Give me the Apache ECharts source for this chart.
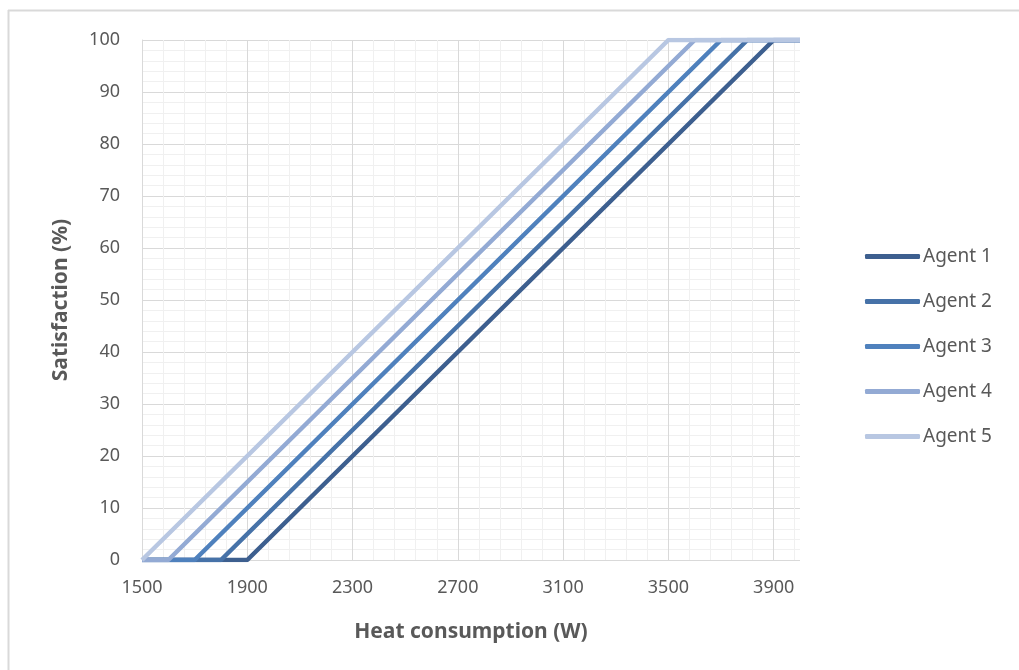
<!DOCTYPE html>
<html>
<head>
<meta charset="utf-8">
<script src="https://cdn.jsdelivr.net/npm/echarts@6/dist/echarts.min.js"></script>
<style>
  html, body { margin: 0; padding: 0; background: #fff; }
  #main { width: 1019px; height: 670px; }
</style>
</head>
<body>
<div id="main"></div>
<script>
"use strict";

// piecewise satisfaction curves: [heat (W), satisfaction (%)]
var agentNames = ["Agent 1", "Agent 2", "Agent 3", "Agent 4", "Agent 5"];
var agent1 = [[1500, 0], [1900, 0], [3900, 100], [4000, 100]];
var agent2 = [[1500, 0], [1800, 0], [3800, 100], [4000, 100]];
var agent3 = [[1500, 0], [1700, 0], [3700, 100], [4000, 100]];
var agent4 = [[1500, 0], [1600, 0], [3600, 100], [4000, 100]];
var agent5 = [[1500, 0], [3500, 100], [4000, 100]];
var agentColors = ["#3d5f8f", "#4672a8", "#4f81bd", "#93aad4", "#b8c7e2"];

var xMin = 1500, xMax = 4000, xStep = 400, xMinorStep = 80;
var yMin = 0, yMax = 100, yStep = 10;

var font = "'Noto Sans', 'Open Sans', sans-serif";
var textColor = "#595959";

var allData = [agent1, agent2, agent3, agent4, agent5];

var chartDom = document.getElementById("main");
var myChart = echarts.init(chartDom);

var series = agentNames.map(function (name, i) {
  return {
    name: name,
    type: "line",
    xAxisIndex: 0,
    data: allData[i],
    symbol: "none",
    lineStyle: { width: 4.5, color: agentColors[i] },
    itemStyle: { color: agentColors[i] },
    emphasis: { disabled: true }
  };
});

var option = {
  animation: false,
  backgroundColor: "#fff",
  grid: { left: 142, right: 219, top: 40, bottom: 110 },
  graphic: [
    { type: "line", shape: { x1: 8, y1: 10.5, x2: 1019, y2: 10.5 }, style: { stroke: "#d9d9d9", lineWidth: 2 } },
    { type: "line", shape: { x1: 8.5, y1: 10, x2: 8.5, y2: 670 }, style: { stroke: "#d9d9d9", lineWidth: 2 } }
  ],
  legend: {
    orient: "vertical",
    left: 865,
    top: 245,
    padding: 0,
    icon: "roundRect",
    itemWidth: 55,
    itemHeight: 5,
    itemGap: 22,
    textStyle: { fontFamily: font, fontSize: 19, color: textColor, padding: [0, 0, 0, -2], lineHeight: 23 },
    data: agentNames
  },
  xAxis: [
    {
      type: "value",
      min: xMin,
      max: xMax,
      interval: xStep,
      name: "Heat consumption (W)",
      nameLocation: "middle",
      nameGap: 62,
      nameTextStyle: { fontFamily: font, fontSize: 21, fontWeight: "bold", color: textColor },
      axisLine: { show: false },
      axisTick: { show: false },
      axisLabel: {
        fontFamily: font, fontSize: 18, color: textColor, margin: 19, showMaxLabel: false,
        formatter: function (v) { return String(v); }
      },
      splitLine: { show: true, showMaxLine: false, lineStyle: { color: "#d9d9d9", width: 1 } },
      z: 2
    },
    {
      type: "value",
      min: xMin,
      max: xMax,
      interval: xMinorStep,
      position: "bottom",
      axisLine: { show: false },
      axisTick: { show: false },
      axisLabel: { show: false },
      splitLine: { show: true, showMinLine: false, showMaxLine: false, lineStyle: { color: "#f0f0f0", width: 1 } },
      z: 1
    }
  ],
  yAxis: {
    type: "value",
    min: yMin,
    max: yMax,
    interval: yStep,
    name: "Satisfaction (%)",
    nameLocation: "middle",
    nameGap: 70,
    nameTextStyle: { fontFamily: font, fontSize: 21, fontWeight: "bold", color: textColor },
    axisLine: { show: true, lineStyle: { color: "#d9d9d9" } },
    axisTick: { show: false },
    axisLabel: { fontFamily: font, fontSize: 18, color: textColor, margin: 22 },
    splitLine: { show: true, lineStyle: { color: "#d9d9d9", width: 1 } },
    minorTick: { show: false, splitNumber: 5 },
    minorSplitLine: { show: true, lineStyle: { color: "#f0f0f0", width: 1 } }
  },
  series: series
};

option && myChart.setOption(option);
</script>
</body>
</html>
